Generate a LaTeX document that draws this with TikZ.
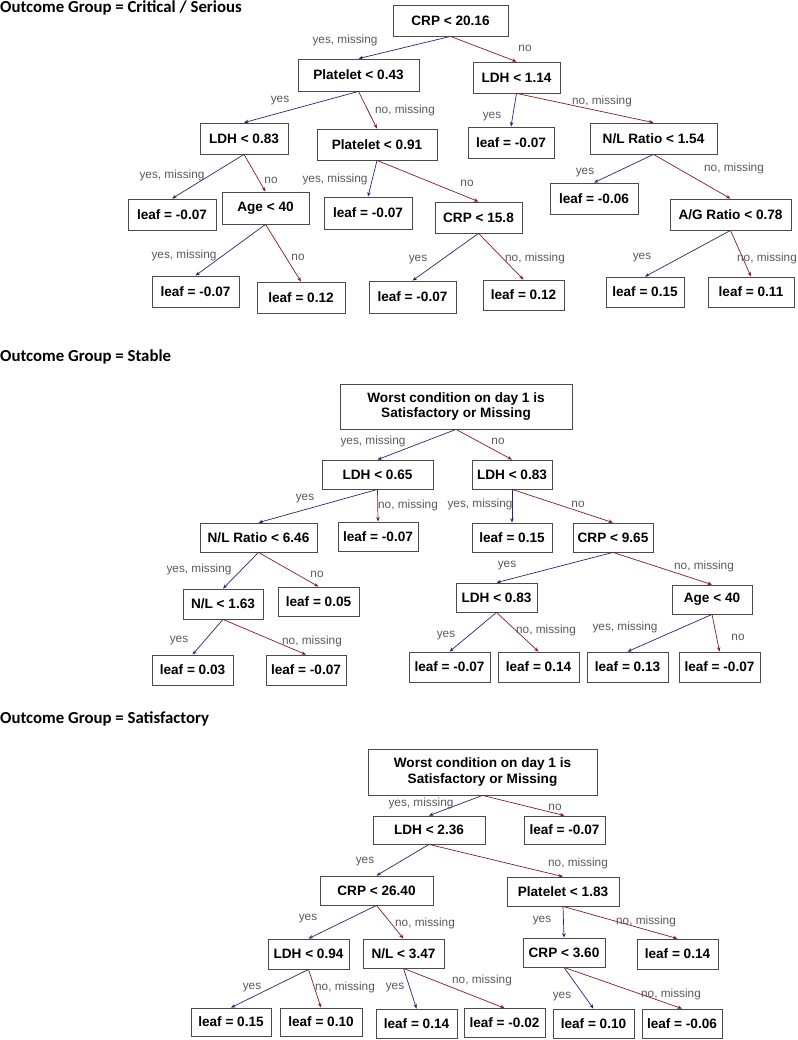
\documentclass[tikz,border=0pt]{standalone}
\usepackage{fontspec}
\setmainfont{Liberation Sans}
\newfontfamily\titlefont{Carlito}
\usetikzlibrary{arrows.meta}
\definecolor{yescol}{RGB}{38,38,118}
\definecolor{nocol}{RGB}{135,28,28}
\definecolor{lblcol}{RGB}{90,90,90}
\definecolor{boxcol}{RGB}{75,75,75}
\tikzset{
  box/.style={draw=boxcol, line width=0.8pt, inner sep=0pt, align=center,
    font=\fontsize{13.6}{15.5}\selectfont\bfseries, text=black},
  lbl/.style={inner sep=0pt, text=lblcol, font=\fontsize{11.8}{13}\selectfont},
  yesedge/.style={draw=yescol, line width=0.7pt, -{Stealth[length=4.5pt,width=3.5pt]}},
  noedge/.style={draw=nocol, line width=0.7pt, -{Stealth[length=4.5pt,width=3.5pt]}},
  ttl/.style={inner sep=0pt, anchor=base west, font=\titlefont\fontsize{16.8}{18}\selectfont\bfseries}
}
\newcommand{\bx}[6]{\node[box, minimum width=#4pt, minimum height=#5pt] (#1) at (#2,#3) {#6};}
\begin{document}
\begin{tikzpicture}[x=1pt,y=-1pt]
\fill[white] (0,0) rectangle (797,1040);
\useasboundingbox (0,0) rectangle (797,1040);

% ===== Tree 1 =====
\node[ttl] (t1) at (0,12.7) {Outcome Group = Critical / Serious};
\bx{a1}{450.5}{20.5}{115}{31}{CRP < 20.16}
\bx{a2}{358.5}{75}{121}{32}{Platelet < 0.43}
\bx{a3}{516.5}{77.5}{87}{31}{LDH < 1.14}
\bx{a4}{244}{138.5}{88}{31}{LDH < 0.83}
\bx{a5}{377}{144.5}{120}{31}{Platelet < 0.91}
\bx{a6}{511}{142.5}{86}{31}{leaf = -0.07}
\bx{a7}{653.5}{138.5}{127}{31}{N/L Ratio < 1.54}
\bx{a8}{172}{214.5}{88}{31}{leaf = -0.07}
\bx{a9}{265.5}{208}{87}{32}{Age < 40}
\bx{a10}{368}{213}{88}{32}{leaf = -0.07}
\bx{a11}{478.5}{217.5}{87}{31}{CRP < 15.8}
\bx{a12}{594}{198.5}{88}{31}{leaf = -0.06}
\bx{a13}{730.5}{214.5}{121}{31}{A/G Ratio < 0.78}
\bx{a14}{195.5}{291.5}{87}{31}{leaf = -0.07}
\bx{a15}{301}{297.5}{88}{31}{leaf = 0.12}
\bx{a16}{412.5}{297}{87}{32}{leaf = -0.07}
\bx{a17}{523.5}{295}{81}{30}{leaf = 0.12}
\bx{a18}{645}{292}{78}{30}{leaf = 0.15}
\bx{a19}{751}{292}{86}{30}{leaf = 0.11}

\draw[yesedge] (a1.south) -- (a2.north);
\draw[noedge] (a1.south) -- (a3.north);
\draw[yesedge] (a2.south) -- (a4.north);
\draw[noedge] (a2.south) -- (a5.north);
\draw[yesedge] (a3.south) -- (a6.north);
\draw[noedge] (a3.south) -- (a7.north);
\draw[yesedge] (a4.south) -- (a8.north);
\draw[noedge] (a4.south) -- (a9.north);
\draw[yesedge] (a5.south) -- (a10.north);
\draw[noedge] (a5.south) -- (a11.north);
\draw[yesedge] (a7.south) -- (a12.north);
\draw[noedge] (a7.south) -- (a13.north);
\draw[yesedge] (a9.south) -- (a14.north);
\draw[noedge] (a9.south) -- (a15.north);
\draw[yesedge] (a11.south) -- (a16.north);
\draw[noedge] (a11.south) -- (a17.north);
\draw[yesedge] (a13.south) -- (a18.north);
\draw[noedge] (a13.south) -- (a19.north);

\node[lbl] (la1) at (345,40) {yes, missing};
\node[lbl] (la2) at (525,48) {no};
\node[lbl] (la3) at (280,101) {yes};
\node[lbl] (la4) at (405,110) {no, missing};
\node[lbl] (la5) at (492,117) {yes};
\node[lbl] (la6) at (602,101) {no, missing};
\node[lbl] (la7) at (172,175) {yes, missing};
\node[lbl] (la8) at (271,180) {no};
\node[lbl] (la9) at (335,179) {yes, missing};
\node[lbl] (la10) at (467,183) {no};
\node[lbl] (la11) at (585,173) {yes};
\node[lbl] (la12) at (734,168) {no, missing};
\node[lbl] (la13) at (184,255) {yes, missing};
\node[lbl] (la14) at (298,257) {no};
\node[lbl] (la15) at (418,260) {yes};
\node[lbl] (la16) at (535,258) {no, missing};
\node[lbl] (la17) at (642,258) {yes};
\node[lbl] (la18) at (767,258) {no, missing};

% ===== Tree 2 =====
\node[ttl] (t2) at (0,361.5) {Outcome Group = Stable};
\bx{b1}{456}{406.5}{232}{45}{Worst condition on day 1 is\\Satisfactory or Missing}
\bx{b2}{377.5}{474.5}{111}{29}{LDH < 0.65}
\bx{b3}{512}{474.5}{80}{29}{LDH < 0.83}
\bx{b4}{258.5}{537.5}{117}{29}{N/L Ratio < 6.46}
\bx{b5}{378}{536.5}{80}{29}{leaf = -0.07}
\bx{b6}{512}{537.5}{80}{29}{leaf = 0.15}
\bx{b7}{613}{537.5}{80}{29}{CRP < 9.65}
\bx{b8}{223}{604}{80}{30}{N/L < 1.63}
\bx{b9}{318.5}{601.5}{81}{29}{leaf = 0.05}
\bx{b10}{496.5}{597.5}{81}{29}{LDH < 0.83}
\bx{b11}{712}{599.5}{80}{29}{Age < 40}
\bx{b12}{192.5}{670}{81}{30}{leaf = 0.03}
\bx{b13}{306}{670}{80}{30}{leaf = -0.07}
\bx{b14}{449.5}{667}{81}{30}{leaf = -0.07}
\bx{b15}{538.5}{667}{81}{30}{leaf = 0.14}
\bx{b16}{627.5}{667}{81}{30}{leaf = 0.13}
\bx{b17}{719.5}{667}{81}{30}{leaf = -0.07}

\draw[yesedge] (b1.south) -- (b2.north);
\draw[noedge] (b1.south) -- (b3.north);
\draw[yesedge] (b2.south) -- (b4.north);
\draw[noedge] (b2.south) -- (b5.north);
\draw[yesedge] (b3.south) -- (b6.north);
\draw[noedge] (b3.south) -- (b7.north);
\draw[yesedge] (b4.south) -- (b8.north);
\draw[noedge] (b4.south) -- (b9.north);
\draw[yesedge] (b8.south) -- (b12.north);
\draw[noedge] (b8.south) -- (b13.north);
\draw[yesedge] (b7.south) -- (b10.north);
\draw[noedge] (b7.south) -- (b11.north);
\draw[yesedge] (b10.south) -- (b14.north);
\draw[noedge] (b10.south) -- (b15.north);
\draw[yesedge] (b11.south) -- (b16.north);
\draw[noedge] (b11.south) -- (b17.north);

\node[lbl] (lb1) at (373,441) {yes, missing};
\node[lbl] (lb2) at (498,441) {no};
\node[lbl] (lb3) at (305,499) {yes};
\node[lbl] (lb4) at (408,505) {no, missing};
\node[lbl] (lb5) at (480,504) {yes, missing};
\node[lbl] (lb6) at (578,504) {no};
\node[lbl] (lb7) at (199,569) {yes, missing};
\node[lbl] (lb8) at (317,574) {no};
\node[lbl] (lb9) at (179,641) {yes};
\node[lbl] (lb10) at (312,641) {no, missing};
\node[lbl] (lb11) at (507,566) {yes};
\node[lbl] (lb12) at (704,566) {no, missing};
\node[lbl] (lb13) at (446,636) {yes};
\node[lbl] (lb14) at (546,630) {no, missing};
\node[lbl] (lb15) at (625,627) {yes, missing};
\node[lbl] (lb16) at (738,637) {no};

% ===== Tree 3 =====
\node[ttl] (t3) at (0,723.5) {Outcome Group = Satisfactory};
\bx{c1}{482.5}{772}{229}{46}{Worst condition on day 1 is\\Satisfactory or Missing}
\bx{c2}{429}{830}{112}{28}{LDH < 2.36}
\bx{c3}{564.5}{830}{81}{28}{leaf = -0.07}
\bx{c4}{376.5}{890.5}{113}{29}{CRP < 26.40}
\bx{c5}{563}{891.5}{112}{29}{Platelet < 1.83}
\bx{c6}{308.5}{954}{81}{30}{LDH < 0.94}
\bx{c7}{403.5}{953.5}{81}{29}{N/L < 3.47}
\bx{c8}{564}{952.5}{82}{29}{CRP < 3.60}
\bx{c9}{677.5}{954}{81}{30}{leaf = 0.14}
\bx{c10}{231}{1022}{80}{28}{leaf = 0.15}
\bx{c11}{321}{1022}{82}{28}{leaf = 0.10}
\bx{c12}{416.5}{1023.5}{81}{29}{leaf = 0.14}
\bx{c13}{504.5}{1023}{81}{29}{leaf = -0.02}
\bx{c14}{593.5}{1023.5}{81}{29}{leaf = 0.10}
\bx{c15}{682}{1023.5}{80}{29}{leaf = -0.06}

\draw[yesedge] (c1.south) -- (c2.north);
\draw[noedge] (c1.south) -- (c3.north);
\draw[yesedge] (c2.south) -- (c4.north);
\draw[noedge] (c2.south) -- (c5.north);
\draw[yesedge] (c4.south) -- (c6.north);
\draw[noedge] (c4.south) -- (c7.north);
\draw[yesedge] (c5.south) -- (c8.north);
\draw[noedge] (c5.south) -- (c9.north);
\draw[yesedge] (c6.south) -- (c10.north);
\draw[noedge] (c6.south) -- (c11.north);
\draw[yesedge] (c7.south) -- (c12.north);
\draw[noedge] (c7.south) -- (c13.north);
\draw[yesedge] (c8.south) -- (c14.north);
\draw[noedge] (c8.south) -- (c15.north);

\node[lbl] (lc1) at (421,803) {yes, missing};
\node[lbl] (lc2) at (555,807) {no};
\node[lbl] (lc3) at (365,862) {yes};
\node[lbl] (lc4) at (578,863) {no, missing};
\node[lbl] (lc5) at (308,919) {yes};
\node[lbl] (lc6) at (425,923) {no, missing};
\node[lbl] (lc7) at (542,921) {yes};
\node[lbl] (lc8) at (646,921) {no, missing};
\node[lbl] (lc9) at (252,988) {yes};
\node[lbl] (lc10) at (345,987) {no, missing};
\node[lbl] (lc11) at (395,988) {yes};
\node[lbl] (lc12) at (482,980) {no, missing};
\node[lbl] (lc13) at (562,997) {yes};
\node[lbl] (lc14) at (671,994) {no, missing};
\end{tikzpicture}
\end{document}
